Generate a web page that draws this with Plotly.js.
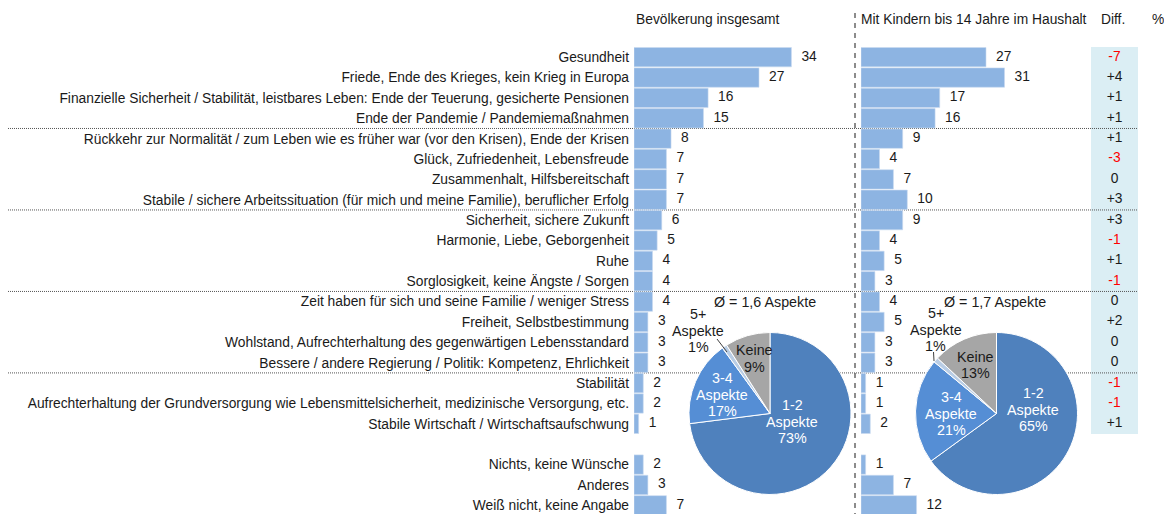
<!DOCTYPE html>
<html><head><meta charset="utf-8">
<script src="https://cdn.plot.ly/plotly-3.0.1.min.js"></script>
<style>html,body{margin:0;padding:0;background:#fff}#chart{width:1164px;height:514px}</style>
</head><body><div id="chart"></div>
<script>
const categories = [
  "Gesundheit",
  "Friede, Ende des Krieges, kein Krieg in Europa",
  "Finanzielle Sicherheit / Stabilität, leistbares Leben: Ende der Teuerung, gesicherte Pensionen",
  "Ende der Pandemie / Pandemiemaßnahmen",
  "Rückkehr zur Normalität / zum Leben wie es früher war (vor den Krisen), Ende der Krisen",
  "Glück, Zufriedenheit, Lebensfreude",
  "Zusammenhalt, Hilfsbereitschaft",
  "Stabile / sichere Arbeitssituation (für mich und meine Familie), beruflicher Erfolg",
  "Sicherheit, sichere Zukunft",
  "Harmonie, Liebe, Geborgenheit",
  "Ruhe",
  "Sorglosigkeit, keine Ängste / Sorgen",
  "Zeit haben für sich und seine Familie / weniger Stress",
  "Freiheit, Selbstbestimmung",
  "Wohlstand, Aufrechterhaltung des gegenwärtigen Lebensstandard",
  "Bessere / andere Regierung / Politik: Kompetenz, Ehrlichkeit",
  "Stabilität",
  "Aufrechterhaltung der Grundversorgung wie Lebensmittelsicherheit, medizinische Versorgung, etc.",
  "Stabile Wirtschaft / Wirtschaftsaufschwung",
  "Nichts, keine Wünsche",
  "Anderes",
  "Weiß nicht, keine Angabe"
];
const totalValues = [34,27,16,15,8,7,7,7,6,5,4,4,4,3,3,3,2,2,1,2,3,7];
const kidsValues  = [27,31,17,16,9,4,7,10,9,4,5,3,4,5,3,3,1,1,2,1,7,12];
const diffValues  = ["-7","+4","+1","+1","+1","-3","0","+3","+3","-1","+1","-1","0","+2","0","0","-1","-1","+1"];
const groupBreaks = [4,8,12,16];        // dotted separators before these rows
const trailingStart = 19;               // "Nichts..." block after a gap

const headerTotal = "Bevölkerung insgesamt";
const headerKids = "Mit Kindern bis 14 Jahre im Haushalt";
const headerDiff = "Diff.";
const headerUnit = "%";

const pieLabels = ["1-2 Aspekte","3-4 Aspekte","5+ Aspekte","Keine"];
const pieTotal = [73,17,1,9];
const pieKids  = [65,21,1,13];
const avgTotal = "Ø = 1,6 Aspekte";
const avgKids  = "Ø = 1,7 Aspekte";

// ---------- layout helpers ----------
const W = 1164, H = 514;
const px = v => v / W;
const py = v => 1 - v / H;
const FONT = "Liberation Sans, Arial, sans-serif";
const FS = 13.8, PFS = 14.3;
const TXT = "#1a1a1a";
const BAR = "#8DB4E2";
const ROWH = 20.37, ROW0 = 47;
const rowPos = categories.map((c, i) => i + (i >= trailingStart ? 1 : 0));
const yRange = [(H - ROW0) / ROWH - 0.5, -ROW0 / ROWH - 0.5];
const PXU = 4.63;  // pixels per percent
const L0 = 634, L1 = 850, R0 = 861, R1 = 1085;

const traces = [
  {type:"bar", orientation:"h", x: totalValues, y: rowPos, width:0.95,
   marker:{color:BAR, line:{color:"#C9DAF0", width:0.6}}, xaxis:"x", yaxis:"y", hoverinfo:"none"},
  {type:"bar", orientation:"h", x: kidsValues, y: rowPos, width:0.95,
   marker:{color:BAR, line:{color:"#C9DAF0", width:0.6}}, xaxis:"x2", yaxis:"y", hoverinfo:"none"},
  {type:"scatter", mode:"markers+text", x: totalValues, y: rowPos, text: totalValues.map(String),
   textposition:"middle right", textfont:{family:FONT,size:FS,color:TXT},
   marker:{size:14.4,color:"rgba(0,0,0,0)"}, cliponaxis:false, xaxis:"x", yaxis:"y", hoverinfo:"none"},
  {type:"scatter", mode:"markers+text", x: kidsValues, y: rowPos, text: kidsValues.map(String),
   textposition:"middle right", textfont:{family:FONT,size:FS,color:TXT},
   marker:{size:14.4,color:"rgba(0,0,0,0)"}, cliponaxis:false, xaxis:"x2", yaxis:"y", hoverinfo:"none"},
  {type:"scatter", mode:"text", x: diffValues.map(() => 0), y: rowPos.slice(0, diffValues.length),
   text: diffValues, textposition:"middle center",
   textfont:{family:FONT,size:FS,color: diffValues.map(d => d.startsWith("-") ? "#FF0000" : TXT)},
   cliponaxis:false, xaxis:"x3", yaxis:"y", hoverinfo:"none"}
];

const pieColors = ["#4F81BD","#558ED5","#B9CDE5","#A6A6A6"];
function pie(values, cx) {
  const r = 81, cy = 413.5;
  return {type:"pie", values, labels: pieLabels, sort:false, direction:"clockwise", rotation:0,
    textinfo:"none", hoverinfo:"none", showlegend:false,
    marker:{colors: pieColors, line:{color:"#FFFFFF", width:1}},
    domain:{x:[px(cx - r), px(cx + r)], y:[py(cy + r), py(cy - r)]}};
}
traces.push(pie(pieTotal, 770), pie(pieKids, 996.5));

const ann = [];
function addText(text, x, y, opts) {
  ann.push(Object.assign({text, x: px(x), y: py(y), xref:"paper", yref:"paper",
    showarrow:false, xanchor:"center", yanchor:"middle",
    font:{family:FONT, size:FS, color:TXT}}, opts || {}));
}
// multi-line label with custom line spacing
function addLines(lines, x, yFirst, color) {
  lines.forEach((t, k) => addText(t, x, yFirst + k * 16.5, {font:{family:FONT, size:PFS, color}}));
}
addText(headerTotal, L0, 20, {xanchor:"left"});
addText(headerKids, 859, 20, {xanchor:"left"});
addText(headerDiff, 1113, 20);
addText(headerUnit, 1158, 20);

function pieLines(i, values) {
  return pieLabels[i].split(" ").concat([values[i] + "%"]);
}
const WHITE = "#FFFFFF";
// left pie labels
addLines(pieLines(0, pieTotal), 792, 405, WHITE);
addLines(pieLines(1, pieTotal), 722, 378, WHITE);
addLines(pieLines(3, pieTotal), 754, 350, TXT);
addLines(pieLines(2, pieTotal), 698, 314, TXT);
addText(avgTotal, 765, 302, {font:{family:FONT, size:PFS, color:TXT}});
// right pie labels
addLines(pieLines(0, pieKids), 1033, 393, WHITE);
addLines(pieLines(1, pieKids), 951, 397, WHITE);
addLines(pieLines(3, pieKids), 975, 356.5, TXT);
addLines(pieLines(2, pieKids), 935.5, 313, TXT);
addText(avgKids, 995, 302, {font:{family:FONT, size:PFS, color:TXT}});

const shapes = [
  {type:"rect", xref:"paper", yref:"y", x0:px(1091), x1:px(1138), y0:-0.5, y1:trailingStart - 0.5,
   fillcolor:"#DBEEF4", line:{width:0}, layer:"below"},
  {type:"line", xref:"paper", yref:"paper", x0:px(855), x1:px(855), y0:py(13), y1:0,
   line:{color:"#8C8C8C", width:2, dash:"5px,5px"}, layer:"below"},
  {type:"line", xref:"paper", yref:"paper", x0:px(717), y0:py(339), x1:px(727), y1:py(352),
   line:{color:"#404040", width:1}},
  {type:"line", xref:"paper", yref:"paper", x0:px(933.5), y0:py(352), x1:px(934), y1:py(361),
   line:{color:"#404040", width:1}}
];
groupBreaks.forEach(b => shapes.push({type:"line", xref:"paper", yref:"y",
  x0:px(8), x1:px(1138), y0:b - 0.5, y1:b - 0.5,
  line:{color:"#555555", width:1, dash:"1px,1px"}, layer:"below"}));

const layout = {
  width:W, height:H, margin:{l:0,r:0,t:0,b:0}, paper_bgcolor:"#fff", plot_bgcolor:"rgba(0,0,0,0)",
  showlegend:false, font:{family:FONT, size:FS, color:TXT},
  xaxis:{domain:[px(L0), px(L1)], range:[0, (L1 - L0) / PXU], visible:false, fixedrange:true},
  xaxis2:{domain:[px(R0), px(R1)], range:[0, (R1 - R0) / PXU], visible:false, fixedrange:true},
  xaxis3:{domain:[px(1091), px(1138)], range:[-1, 1], visible:false, fixedrange:true},
  yaxis:{range:yRange, tickvals:rowPos, ticktext:categories, ticks:"", showgrid:false, zeroline:false,
    showline:false, ticklabelstandoff:4, tickfont:{family:FONT,size:FS,color:TXT}, automargin:false, fixedrange:true},
  annotations:ann, shapes
};
Plotly.newPlot("chart", traces, layout, {staticPlot:true});
</script></body></html>
